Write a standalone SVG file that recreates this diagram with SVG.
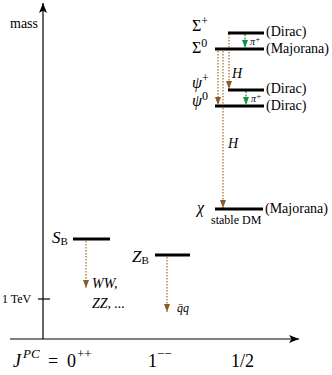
<svg xmlns="http://www.w3.org/2000/svg" width="332" height="375" viewBox="0 0 332 375" font-family="'Liberation Serif', 'DejaVu Serif', serif">
<defs>
<style>
text{font-family:'Liberation Serif','DejaVu Serif',serif;fill:#000}
.m{font-style:italic}
.lvl{stroke:#000;stroke-width:3}
.ax{stroke:#000;stroke-width:1.2;fill:none}
.br{stroke:#a8763e;stroke-width:1.3;stroke-dasharray:1.5 1.5;fill:none}
.gr{stroke:#1a9a4e;stroke-width:1.3;stroke-dasharray:2 1.5;fill:none}
</style>
<marker id="ah" viewBox="0 0 10 8" refX="10" refY="4" markerWidth="10" markerHeight="8" markerUnits="userSpaceOnUse" orient="auto">
<path d="M0,0 L10,4 L0,8 L2.5,4 Z" fill="#000"/>
</marker>
<marker id="bh" viewBox="0 0 8 6" refX="8" refY="3" markerWidth="8" markerHeight="6" markerUnits="userSpaceOnUse" orient="auto">
<path d="M0,0 L8,3 L0,6 Z" fill="#8c5a28"/>
</marker>
<marker id="gh" viewBox="0 0 8 6" refX="8" refY="3" markerWidth="8" markerHeight="6" markerUnits="userSpaceOnUse" orient="auto">
<path d="M0,0 L8,3 L0,6 Z" fill="#149443"/>
</marker>
</defs>

<g id="axes">
<line class="ax" x1="43" y1="339" x2="43" y2="3" marker-end="url(#ah)"/>
<line class="ax" x1="10" y1="339" x2="299" y2="339" marker-end="url(#ah)"/>
<line class="ax" x1="38" y1="299" x2="50" y2="299"/>
<text x="10" y="28" font-size="14">mass</text>
<text x="2" y="303" font-size="12">1 TeV</text>
<text y="367" font-size="18"><tspan class="m" x="13">J</tspan><tspan class="m" font-size="13" x="23" y="358">PC</tspan><tspan x="48" y="367">=</tspan><tspan x="67">0</tspan><tspan font-size="13" x="77" y="358">++</tspan></text>
<text y="367" font-size="18"><tspan x="148">1</tspan><tspan font-size="13" x="157" y="358">−−</tspan></text>
<text x="231" y="367" font-size="18">1/2</text>
</g>

<g id="connectors">
<line class="br" x1="229" y1="34" x2="229" y2="89" marker-end="url(#bh)"/>
<line class="br" x1="218" y1="51" x2="218" y2="105" marker-end="url(#bh)"/>
<line class="br" x1="223" y1="51" x2="223" y2="208" marker-end="url(#bh)"/>
<line class="gr" x1="245" y1="34" x2="245" y2="48" marker-end="url(#gh)"/>
<line class="gr" x1="246" y1="91" x2="246" y2="105" marker-end="url(#gh)"/>
<line class="br" x1="86" y1="241" x2="86" y2="288" marker-end="url(#bh)"/>
<line class="br" x1="167" y1="257" x2="167" y2="312" marker-end="url(#bh)"/>
<text class="m" x="250" y="45" font-size="10">π<tspan font-size="8" dy="-3">+</tspan></text>
<text class="m" x="251" y="102" font-size="10">π<tspan font-size="8" dy="-3">+</tspan></text>
<text class="m" x="232" y="78" font-size="14">H</text>
<text class="m" x="228" y="148" font-size="14">H</text>
<text class="m" x="92" y="288" font-size="14">WW,</text>
<text class="m" x="92" y="308" font-size="14">ZZ, ...</text>
<text class="m" x="177" y="312" font-size="12">q̄q</text>
</g>

<g id="Sigma_plus">
<line class="lvl" x1="228" y1="33" x2="264" y2="33"/>
<text x="192" y="31" font-size="16">Σ<tspan font-size="12" dy="-6">+</tspan></text>
<text x="266" y="36" font-size="14">(Dirac)</text>
</g>

<g id="Sigma_0">
<line class="lvl" x1="215" y1="49" x2="264" y2="49"/>
<text x="192" y="53" font-size="16">Σ<tspan font-size="12" dy="-6">0</tspan></text>
<text x="266" y="53" font-size="14">(Majorana)</text>
</g>

<g id="psi_plus">
<line class="lvl" x1="228" y1="90" x2="264" y2="90"/>
<text x="192" y="88" font-size="16"><tspan class="m">ψ</tspan><tspan font-size="12" dy="-6">+</tspan></text>
<text x="266" y="93" font-size="14">(Dirac)</text>
</g>

<g id="psi_0">
<line class="lvl" x1="215" y1="106" x2="264" y2="106"/>
<text x="192" y="106" font-size="16"><tspan class="m">ψ</tspan><tspan font-size="12" dy="-6">0</tspan></text>
<text x="266" y="110" font-size="14">(Dirac)</text>
</g>

<g id="chi">
<line class="lvl" x1="215" y1="209" x2="263" y2="209"/>
<text class="m" x="197" y="213" font-size="16">χ</text>
<text x="265" y="213" font-size="14">(Majorana)</text>
<text x="211" y="224" font-size="12">stable DM</text>
</g>

<g id="S_B">
<line class="lvl" x1="73" y1="239" x2="110" y2="239"/>
<text x="52" y="243" font-size="17"><tspan class="m">S</tspan><tspan font-size="11" dy="2">B</tspan></text>
</g>

<g id="Z_B">
<line class="lvl" x1="155" y1="255" x2="190" y2="255"/>
<text x="132" y="262" font-size="17"><tspan class="m">Z</tspan><tspan font-size="11" dy="2">B</tspan></text>
</g>
</svg>
